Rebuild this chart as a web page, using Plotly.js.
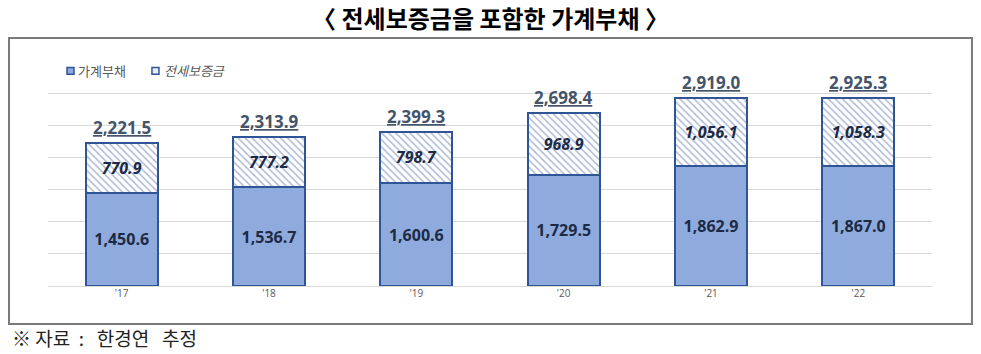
<!DOCTYPE html>
<html>
<head>
<meta charset="utf-8">
<script src="https://cdn.plot.ly/plotly-3.0.1.min.js"></script>
<style>html,body{margin:0;padding:0;background:#fff;}#chart{width:981px;height:354px;}</style>
</head>
<body>
<div id="chart"></div>
<script>
const years = ["'17", "'18", "'19", "'20", "'21", "'22"];
const household = [1450.6, 1536.7, 1600.6, 1729.5, 1862.9, 1867.0];
const deposit = [770.9, 777.2, 798.7, 968.9, 1056.1, 1058.3];
const totals = [2221.5, 2313.9, 2399.3, 2698.4, 2919.0, 2925.3];

const fmt = v => v.toLocaleString('en-US', {minimumFractionDigits: 1, maximumFractionDigits: 1});
const FONT = "'Noto Sans CJK KR', 'Noto Sans', sans-serif";
const NUMFONT = "'Open Sans', 'Noto Sans', sans-serif";

const traces = [
  {
    type: 'bar', x: years, y: household, name: '가계부채', width: 0.49,
    marker: {color: '#8faadc', line: {color: '#2f5597', width: 2}},
    text: household.map(v => '<b>' + fmt(v) + '</b>'),
    textposition: 'inside', insidetextanchor: 'middle', textangle: 0, constraintext: 'none',
    textfont: {family: NUMFONT, size: 16, color: '#1c2a45'},
    hoverinfo: 'skip'
  },
  {
    type: 'bar', x: years, y: deposit, name: '전세보증금', width: 0.49,
    marker: {color: '#ffffff', line: {color: '#2f5597', width: 2},
      pattern: {shape: '\\', fgcolor: '#aebbd6', bgcolor: '#ffffff', size: 5, solidity: 0.3}},
    text: deposit.map(v => '<b><i>' + fmt(v) + '</i></b>'),
    textposition: 'inside', insidetextanchor: 'middle', textangle: 0, constraintext: 'none',
    textfont: {family: NUMFONT, size: 16, color: '#1c2a45'},
    hoverinfo: 'skip'
  }
];

const annotations = years.map((yr, i) => ({
  x: yr, y: totals[i], xref: 'x', yref: 'y', yanchor: 'bottom', yshift: 2,
  text: '<b><u>' + fmt(totals[i]) + '</u></b>', showarrow: false,
  font: {family: NUMFONT, size: 17, color: '#44546a'}
}));

annotations.push(
  {xref: 'paper', yref: 'paper', x: 0.0317, y: 0.956, xanchor: 'left', yanchor: 'middle',
   text: '가계부채', showarrow: false, font: {family: FONT, size: 13, color: '#595959'}},
  {xref: 'paper', yref: 'paper', x: 0.129, y: 0.956, xanchor: 'left', yanchor: 'middle',
   text: '<i>전세보증금</i>', showarrow: false, font: {family: FONT, size: 13, color: '#595959'}},
  {xref: 'paper', yref: 'paper', x: -0.043, y: -0.23, xanchor: 'left', yanchor: 'middle',
   text: '※&nbsp;자료&nbsp;&nbsp;:&nbsp;&nbsp;&nbsp;한경연&nbsp;&nbsp;&nbsp;추정', showarrow: false,
   font: {family: FONT, size: 19, color: '#222'}}
);

const layout = {
  width: 981, height: 354,
  margin: {l: 48, r: 49, t: 61, b: 68},
  paper_bgcolor: '#ffffff', plot_bgcolor: '#ffffff',
  title: {text: '〈 전세보증금을 포함한 가계부채 〉', x: 0.5, xanchor: 'center', y: 0.944, yanchor: 'middle',
    font: {family: FONT, size: 24, color: '#000', weight: 'bold'}},
  barmode: 'stack',
  showlegend: false,
  xaxis: {type: 'category', showgrid: false, zeroline: false, showline: false, ticks: '',
    tickfont: {family: NUMFONT, size: 10, color: '#595959'}},
  yaxis: {range: [0, 3500], dtick: 500, showticklabels: false, gridcolor: '#d9d9d9', gridwidth: 1,
    zeroline: true, zerolinecolor: '#d9d9d9', zerolinewidth: 1, showline: false, ticks: ''},
  annotations: annotations,
  shapes: [
    {type: 'rect', xref: 'paper', yref: 'paper', x0: -0.0441, x1: 1.0452, y0: -0.169, y1: 1.102,
     line: {color: '#7a7a7a', width: 2}, fillcolor: 'rgba(0,0,0,0)', layer: 'below'},
    {type: 'rect', xref: 'paper', yref: 'paper', x0: 0.0215, x1: 0.0294, y0: 0.941, y1: 0.971,
     line: {color: '#2f5597', width: 1.5}, fillcolor: '#8faadc'},
    {type: 'rect', xref: 'paper', yref: 'paper', x0: 0.1176, x1: 0.1255, y0: 0.941, y1: 0.971,
     line: {color: '#2f5597', width: 1.5}, fillcolor: '#e8edf6'}
  ]
};

Plotly.newPlot('chart', traces, layout, {displayModeBar: false, staticPlot: true});
</script>
</body>
</html>
